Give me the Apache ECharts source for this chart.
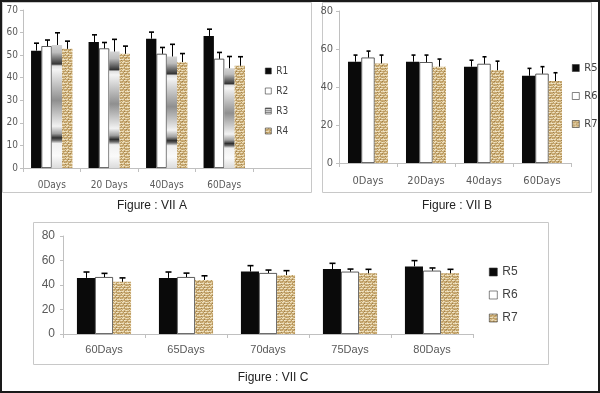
<!DOCTYPE html>
<html><head><meta charset="utf-8">
<script src="https://cdn.jsdelivr.net/npm/echarts@6/dist/echarts.min.js"></script>
<style>html,body{margin:0;padding:0;background:#fff}#c{width:600px;height:393px}</style>
</head><body><div id="c"></div>
<script>
// ---------- DATA ----------
// Figure VII A
const catsA = ['0Days', '20 Days', '40Days', '60Days'];
const ticksA = [0, 10, 20, 30, 40, 50, 60, 70];
const namesA = ['R1', 'R2', 'R3', 'R4'];
const aR1 = [52, 55.8, 57.3, 58.5];
const aR1err = [3.3, 3.2, 2.9, 3.0];
const aR2 = [54, 53, 50.6, 48.4];
const aR2err = [2.7, 2.6, 2.8, 2.8];
const aR3 = [54.5, 51.6, 49.4, 44.2];
const aR3err = [5.4, 5.4, 5.4, 5.2];
const aR4 = [52.8, 50.6, 46.9, 45.3];
const aR4err = [3.4, 3.4, 3.8, 4.0];
// Figure VII B
const catsB = ['0Days', '20Days', '40days', '60Days'];
const ticksB = [0, 20, 40, 60, 80];
const namesB = ['R5', 'R6', 'R7'];
const bR5 = [53.3, 53.3, 50.7, 45.9];
const bR5err = [3.5, 3.5, 3.4, 3.9];
const bR6 = [55.5, 53.1, 52.2, 47.0];
const bR6err = [3.4, 3.7, 3.7, 3.7];
const bR7 = [52.4, 50.7, 48.9, 43.1];
const bR7err = [4.4, 4.0, 4.7, 4.4];
// Figure VII C
const catsC = ['60Days', '65Days', '70days', '75Days', '80Days'];
const ticksC = [0, 20, 40, 60, 80];
const namesC = ['R5', 'R6', 'R7'];
const cR5 = [45.8, 45.8, 51.0, 53.0, 55.2];
const cR5err = [4.8, 4.8, 4.8, 4.7, 4.7];
const cR6 = [46.5, 46.5, 49.8, 50.9, 51.7];
const cR6err = [3.0, 3.2, 2.4, 2.1, 2.2];
const cR7 = [42.6, 44.1, 48.2, 49.5, 49.5];
const cR7err = [3.2, 3.4, 3.5, 3.3, 3.3];
const captions = ['Figure : VII A', 'Figure : VII B', 'Figure : VII C'];

// ---------- STYLES ----------
const NARROW = "'Liberation Sans Narrow','DejaVu Sans Condensed',sans-serif";
const NORMAL = "'Liberation Sans','Open Sans',sans-serif";
const AXIS = '#c0c0c0';
const LABEL = '#595959';

function makeTexture() {
  const pal = { a: '#e4d2a8', b: '#c9aa72', c: '#9e7f4a', d: '#f0e4c8', e: '#b89860' };
  const rows = [
    'adaeddab',
    'bbebbbcb',
    'ebbabeba',
    'dadaedad',
    'bcbbebbb',
    'babdabeb',
    'aedabada',
    'ebbbcbbe'
  ];
  const cv = document.createElement('canvas');
  cv.width = 8; cv.height = 8;
  const ctx = cv.getContext('2d');
  rows.forEach((r, y) => { for (let x = 0; x < r.length; x++) { ctx.fillStyle = pal[r[x]]; ctx.fillRect(x, y, 1, 1); } });
  return { image: cv, repeat: 'repeat' };
}
const TEX = makeTexture();
const METAL = new echarts.graphic.LinearGradient(0, 0, 0, 1, [
  { offset: 0, color: '#d4d4d4' }, { offset: 0.06, color: '#bdbdbd' },
  { offset: 0.14, color: '#4a4a4a' }, { offset: 0.155, color: '#333333' },
  { offset: 0.17, color: '#e0e0e0' }, { offset: 0.2, color: '#f4f4f4' },
  { offset: 0.45, color: '#8f8f8f' }, { offset: 0.66, color: '#f2f2f2' },
  { offset: 0.72, color: '#a0a0a0' }, { offset: 0.755, color: '#2e2e2e' },
  { offset: 0.775, color: '#6a6a6a' }, { offset: 0.8, color: '#f0f0f0' },
  { offset: 0.9, color: '#fafafa' }, { offset: 1, color: '#dcdcdc' }
]);
const STY = {
  black: { color: '#0a0a0a' },
  white: { color: '#ffffff', borderColor: '#333', borderWidth: 0.8 },
  metal: { color: METAL },
  tex: { color: TEX }
};

function errRender(idx, n, gap, cap) {
  return function (params, api) {
    const ci = api.value(0), v = api.value(1), e = api.value(2);
    const band = api.size([1, 0])[0];
    const total = band * (1 - gap);
    const bw = total / n;
    const off = -total / 2 + (idx + 0.5) * bw;
    const p0 = api.coord([ci, v]);
    const p1 = api.coord([ci, v + e]);
    const x = Math.round(p0[0] + off) + 0.5;
    return {
      type: 'group', children: [
        { type: 'line', shape: { x1: x, y1: p0[1], x2: x, y2: p1[1] }, style: { stroke: '#000', lineWidth: 1 } },
        { type: 'line', shape: { x1: x - cap, y1: p1[1], x2: x + cap, y2: p1[1] }, style: { stroke: '#000', lineWidth: 1.6 } }
      ]
    };
  };
}

const series = [];
function addGroup(gi, names, vals, errs, styles, gap, cap) {
  names.forEach((nm, i) => {
    series.push({
      type: 'bar', name: nm, xAxisIndex: gi, yAxisIndex: gi,
      data: vals[i], itemStyle: styles[i],
      barGap: '0%', barCategoryGap: (gap * 100) + '%', z: 2
    });
  });
  names.forEach((nm, i) => {
    series.push({
      type: 'custom', name: nm + ' err' + gi, xAxisIndex: gi, yAxisIndex: gi, z: 5,
      renderItem: errRender(i, names.length, gap, cap),
      encode: { x: 0, y: 1 },
      data: vals[i].map((v, k) => [k, v, errs[i][k]])
    });
  });
}
addGroup(0, namesA, [aR1, aR2, aR3, aR4], [aR1err, aR2err, aR3err, aR4err],
  [STY.black, STY.white, STY.metal, STY.tex], 0.28, 2.5);
addGroup(1, namesB, [bR5, bR6, bR7], [bR5err, bR6err, bR7err],
  [STY.black, STY.white, STY.tex], 0.31, 2);
addGroup(2, namesC, [cR5, cR6, cR7], [cR5err, cR6err, cR7err],
  [STY.black, STY.white, STY.tex], 0.34, 3);

function yAxis(gi, ticks, fs, font, margin) {
  return {
    type: 'value', gridIndex: gi, min: ticks[0], max: ticks[ticks.length - 1], interval: ticks[1] - ticks[0],
    axisLine: { show: true, lineStyle: { color: AXIS } },
    axisTick: { show: true, length: 3, lineStyle: { color: AXIS } },
    splitLine: { show: false },
    axisLabel: { color: LABEL, fontSize: fs, fontFamily: font, margin: margin }
  };
}
function xAxis(gi, cats, fs, font, margin) {
  return {
    type: 'category', gridIndex: gi, data: cats,
    axisLine: { show: true, lineStyle: { color: AXIS } },
    axisTick: { show: true, length: 4, lineStyle: { color: AXIS } },
    axisLabel: { color: LABEL, fontSize: fs, fontFamily: font, margin: margin }
  };
}
function legend(names, left, top, size, gap, fs, font, lh) {
  return {
    data: names, orient: 'vertical', left: left, top: top, itemWidth: size, itemHeight: size, itemGap: gap,
    icon: 'rect', selectedMode: false, itemStyle: { borderWidth: 0.6, borderColor: '#333' },
    textStyle: { color: '#404040', fontSize: fs, fontFamily: font, lineHeight: lh }, padding: 0
  };
}

const option = {
  animation: false,
  grid: [
    { left: 23, top: 10, width: 230, height: 158 },
    { left: 339, top: 11, width: 232, height: 152 },
    { left: 63, top: 236, width: 410, height: 98 }
  ],
  xAxis: [xAxis(0, catsA, 10, NARROW, 12), xAxis(1, catsB, 11, NARROW, 13), xAxis(2, catsC, 11, NORMAL, 10)],
  yAxis: [yAxis(0, ticksA, 10, NARROW, 5), yAxis(1, ticksB, 11, NARROW, 6), yAxis(2, ticksC, 12, NORMAL, 8)],
  legend: [
    legend(namesA, 265, 65, 6, 8, 10, NARROW, 12),
    legend(namesB, 572, 62, 7, 16, 11, NARROW, 12),
    legend(namesC, 489, 265, 8, 9, 12, NORMAL, 14)
  ],
  series: series,
  graphic: [
    { type: 'rect', shape: { x: 1, y: 1, width: 598, height: 391 }, style: { fill: 'none', stroke: '#1a1a1a', lineWidth: 2 }, z: 10 },
    { type: 'rect', shape: { x: 2.5, y: 2.5, width: 309, height: 190 }, style: { fill: 'none', stroke: '#c8c8c8', lineWidth: 1 } },
    { type: 'rect', shape: { x: 322.5, y: 2.5, width: 269, height: 190 }, style: { fill: 'none', stroke: '#c8c8c8', lineWidth: 1 } },
    { type: 'line', shape: { x1: 253, y1: 168.5, x2: 311, y2: 168.5 }, style: { stroke: AXIS, lineWidth: 1 } },
    { type: 'rect', shape: { x: 33.5, y: 222.5, width: 515, height: 142 }, style: { fill: 'none', stroke: '#c8c8c8', lineWidth: 1 } },
    { type: 'text', x: 152, y: 206, style: { text: captions[0], fill: '#222', font: "12px 'Liberation Sans',sans-serif", textAlign: 'center', textVerticalAlign: 'middle' } },
    { type: 'text', x: 457, y: 206, style: { text: captions[1], fill: '#222', font: "12px 'Liberation Sans',sans-serif", textAlign: 'center', textVerticalAlign: 'middle' } },
    { type: 'text', x: 273, y: 378, style: { text: captions[2], fill: '#222', font: "12px 'Liberation Sans',sans-serif", textAlign: 'center', textVerticalAlign: 'middle' } }
  ]
};
const chart = echarts.init(document.getElementById('c'), null, { renderer: 'canvas' });
chart.setOption(option);
</script></body></html>
